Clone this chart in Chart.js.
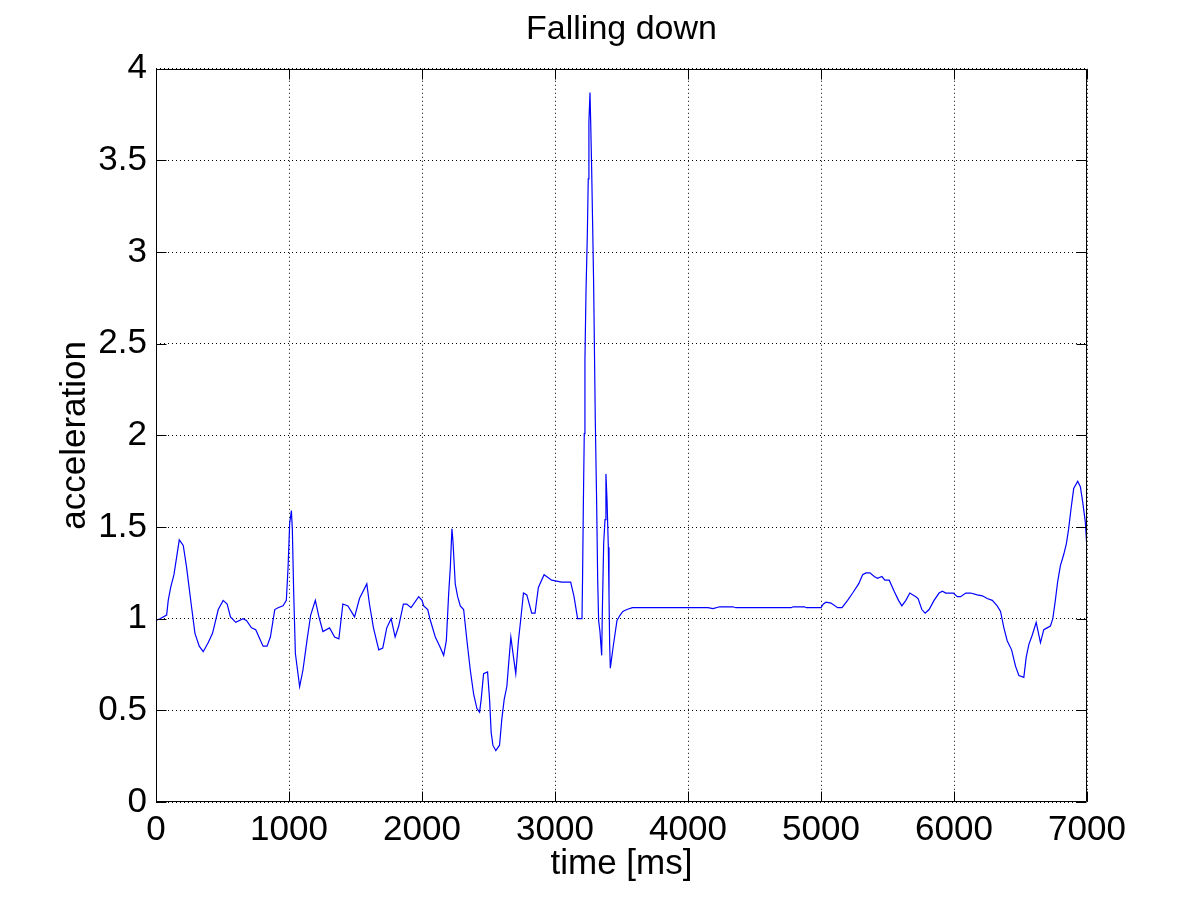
<!DOCTYPE html>
<html>
<head>
<meta charset="utf-8">
<title>Falling down</title>
<script src="https://cdn.jsdelivr.net/npm/chart.js@4"></script>
<style>
  html, body { margin: 0; padding: 0; background: #fff; }
  #wrap { width: 1201px; height: 901px; }
</style>
</head>
<body>
<div id="wrap"><canvas id="fallChart" width="1201" height="901"></canvas></div>
<script>
// time stamps [ms] and acceleration
const timeMs = [
  0, 30, 80, 92, 110, 135, 175, 205, 230, 268, 293, 325, 355, 393, 425, 468, 505, 535, 560, 600,
  655, 680, 718, 750, 780, 805, 835, 860, 893, 918, 955, 980, 993, 1005, 1018, 1025, 1035, 1048, 1080, 1105,
  1135, 1163, 1198, 1225, 1255, 1305, 1343, 1375, 1405, 1443, 1493, 1530, 1585, 1605, 1635, 1675, 1705, 1735, 1768, 1798,
  1825, 1860, 1885, 1918, 1975, 2000, 2013, 2043, 2063, 2100, 2133, 2163, 2183, 2200, 2213, 2225, 2233, 2250, 2268, 2288,
  2313, 2338, 2363, 2388, 2413, 2433, 2445, 2463, 2493, 2508, 2520, 2533, 2555, 2583, 2600, 2618, 2638, 2650, 2668, 2688,
  2705, 2725, 2743, 2763, 2788, 2825, 2850, 2875, 2918, 2975, 3050, 3118, 3143, 3170, 3203, 3207, 3213, 3220, 3225, 3233,
  3243, 3250, 3255, 3263, 3268, 3276, 3283, 3290, 3296, 3303, 3313, 3321, 3328, 3338, 3351, 3356, 3366, 3376, 3383, 3391,
  3401, 3406, 3411, 3416, 3436, 3466, 3490, 3510, 3540, 3583, 3650, 4150, 4188, 4238, 4338, 4360, 4775, 4790, 4875, 4890,
  5000, 5018, 5038, 5075, 5125, 5158, 5200, 5238, 5283, 5313, 5338, 5368, 5400, 5425, 5458, 5480, 5513, 5550, 5583, 5608,
  5638, 5668, 5713, 5730, 5758, 5783, 5813, 5850, 5888, 5913, 5938, 5963, 5995, 6025, 6050, 6088, 6125, 6175, 6213, 6250,
  6288, 6325, 6350, 6375, 6400, 6433, 6463, 6488, 6525, 6543, 6563, 6588, 6618, 6650, 6675, 6700, 6725, 6743, 6762, 6779,
  6800, 6825, 6845, 6862, 6880, 6900, 6930, 6950, 6967, 6987, 7000
];
const accel = [
  0.99, 1.00, 1.02, 1.10, 1.17, 1.24, 1.43, 1.40, 1.28, 1.06, 0.92, 0.85, 0.82, 0.87, 0.92, 1.05, 1.10, 1.08, 1.01, 0.98,
  1.00, 0.99, 0.95, 0.94, 0.89, 0.85, 0.85, 0.90, 1.05, 1.06, 1.07, 1.10, 1.28, 1.52, 1.59, 1.49, 1.15, 0.81, 0.63, 0.72,
  0.88, 1.02, 1.10, 1.01, 0.93, 0.95, 0.90, 0.89, 1.08, 1.07, 1.01, 1.11, 1.19, 1.08, 0.95, 0.83, 0.84, 0.95, 1.00, 0.90,
  0.96, 1.08, 1.08, 1.06, 1.12, 1.10, 1.07, 1.05, 0.99, 0.90, 0.85, 0.80, 0.88, 1.13, 1.28, 1.49, 1.42, 1.19, 1.12, 1.07,
  1.05, 0.88, 0.72, 0.59, 0.51, 0.49, 0.56, 0.70, 0.71, 0.56, 0.38, 0.31, 0.28, 0.31, 0.45, 0.56, 0.63, 0.74, 0.90, 0.79,
  0.70, 0.88, 1.00, 1.14, 1.13, 1.03, 1.03, 1.17, 1.24, 1.21, 1.20, 1.20, 1.12, 1.00, 1.00, 1.21, 1.61, 2.01, 2.41, 2.78,
  3.09, 3.40, 3.71, 3.87, 3.72, 3.44, 3.15, 2.85, 2.50, 2.08, 1.64, 1.21, 0.99, 0.93, 0.80, 1.04, 1.41, 1.54, 1.79, 1.65,
  1.39, 1.13, 0.86, 0.73, 0.84, 0.99, 1.02, 1.04, 1.05, 1.06, 1.06, 1.06, 1.055, 1.065, 1.065, 1.06, 1.06, 1.065, 1.065, 1.06,
  1.06, 1.08, 1.09, 1.085, 1.06, 1.06, 1.10, 1.14, 1.19, 1.24, 1.25, 1.25, 1.23, 1.22, 1.23, 1.21, 1.21, 1.15, 1.10, 1.07,
  1.10, 1.14, 1.12, 1.11, 1.05, 1.03, 1.05, 1.10, 1.14, 1.15, 1.14, 1.14, 1.14, 1.12, 1.12, 1.14, 1.14, 1.13, 1.125, 1.11,
  1.10, 1.07, 1.04, 0.95, 0.88, 0.83, 0.74, 0.69, 0.68, 0.79, 0.86, 0.91, 0.98, 0.87, 0.94, 0.95, 0.96, 1.00, 1.10, 1.20,
  1.29, 1.35, 1.41, 1.49, 1.60, 1.71, 1.75, 1.72, 1.64, 1.53, 1.38
];
const xTicks = [0, 1000, 2000, 3000, 4000, 5000, 6000, 7000];
const yTicks = [0, 0.5, 1, 1.5, 2, 2.5, 3, 3.5, 4];

const FONT = "'Liberation Sans', Arial, Helvetica, sans-serif";
Chart.defaults.color = "#000";
Chart.defaults.font.family = FONT;

// solid box around the axes plus inward tick marks on all four sides
const framePlugin = {
  id: "frame",
  afterDraw(chart) {
    const { ctx, chartArea: a, scales } = chart;
    const L = Math.round(a.left) + 0.5, R = Math.round(a.right) - 0.5;
    const T = Math.round(a.top) + 0.5, B = Math.round(a.bottom) - 0.5;
    ctx.save();
    ctx.strokeStyle = "#000";
    ctx.lineWidth = 1;
    ctx.beginPath();
    ctx.rect(L, T, R - L, B - T);
    yTicks.forEach(v => {
      const p = Math.round(scales.y.getPixelForValue(v)) + 0.5;
      ctx.moveTo(L, p); ctx.lineTo(L + 10, p);
      ctx.moveTo(R, p); ctx.lineTo(R - 10, p);
    });
    xTicks.forEach(v => {
      const p = Math.round(scales.x.getPixelForValue(v)) + 0.5;
      ctx.moveTo(p, B); ctx.lineTo(p, B - 10);
      ctx.moveTo(p, T); ctx.lineTo(p, T + 10);
    });
    ctx.stroke();
    ctx.restore();
  }
};

const points = timeMs.map((t, i) => ({ x: t, y: accel[i] }));

new Chart(document.getElementById("fallChart"), {
  type: "line",
  data: {
    datasets: [{
      data: points,
      borderColor: "#0000ff",
      borderWidth: 1.2,
      pointRadius: 0,
      tension: 0,
      fill: false
    }]
  },
  options: {
    responsive: false,
    animation: false,
    // left padding + empty right axis keep the title centred over the plot box
    layout: { padding: { left: 42, right: 0, top: 0, bottom: 0 } },
    plugins: {
      legend: { display: false },
      tooltip: { enabled: false },
      title: {
        display: true,
        text: "Falling down",
        font: { size: 34, weight: "normal", family: FONT },
        padding: { top: 9, bottom: 19 }
      }
    },
    scales: {
      x: {
        type: "linear",
        min: 0,
        max: 7000,
        afterBuildTicks(scale) { scale.ticks = xTicks.map(v => ({ value: v })); },
        afterFit(scale) { scale.height = 99; },
        ticks: {
          font: { size: 35 },
          padding: 7,
          maxRotation: 0,
          callback: v => String(v)
        },
        grid: { color: "#000", lineWidth: 1, drawTicks: false },
        border: { display: false, dash: [1, 3] },
        title: {
          display: true,
          text: "time [ms]",
          font: { size: 35 },
          padding: { top: 0, bottom: 16 }
        }
      },
      y: {
        type: "linear",
        min: 0,
        max: 4,
        afterBuildTicks(scale) { scale.ticks = yTicks.map(v => ({ value: v })); },
        afterFit(scale) { scale.width = 114; },
        ticks: {
          font: { size: 35 },
          padding: 9,
          callback: v => String(v)
        },
        grid: { color: "#000", lineWidth: 1, drawTicks: false },
        border: { display: false, dash: [1, 3] },
        title: {
          display: true,
          text: "acceleration",
          font: { size: 35 },
          padding: { top: 12, bottom: 0 }
        }
      },
      yRight: {
        type: "linear",
        position: "right",
        min: 0,
        max: 4,
        afterFit(scale) { scale.width = 114; },
        ticks: { display: false },
        grid: { display: false, drawOnChartArea: false },
        border: { display: false }
      }
    }
  },
  plugins: [framePlugin]
});
</script>
</body>
</html>
